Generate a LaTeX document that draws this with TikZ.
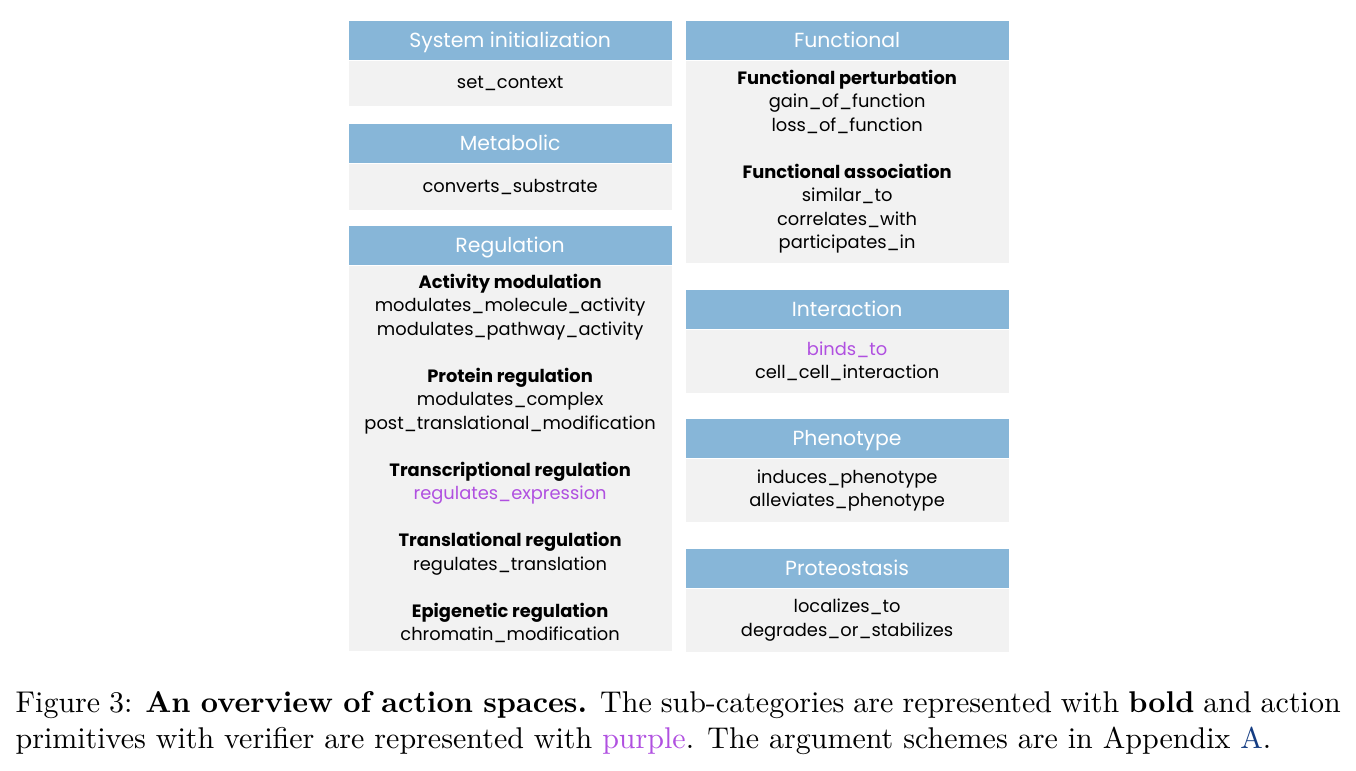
\documentclass[tikz,border=0pt]{standalone}
\usepackage{fontspec}
\usepackage{tikz}
\usetikzlibrary{positioning}
\newfontfamily\boxfont{Poppins}
\definecolor{headblue}{RGB}{135,182,216}
\definecolor{boxgray}{RGB}{242,242,242}
\definecolor{verpurple}{RGB}{176,80,224}
\definecolor{linkblue}{RGB}{20,60,130}

\tikzset{
  head/.style={fill=headblue, text=white, minimum width=107.67pt, minimum height=13pt,
    inner sep=0pt, text height=4.8pt, text depth=0pt, anchor=north west,
    font=\boxfont\fontsize{6.8}{8}\selectfont},
  body/.style={fill=boxgray, minimum width=107.67pt, inner sep=0pt, anchor=north,
    align=center, font=\boxfont\fontsize{5.95}{7.83}\selectfont}
}
\newcommand{\subcat}[1]{\textbf{#1}}
\newcommand{\verif}[1]{\textcolor{verpurple}{#1}}

\begin{document}
\begin{tikzpicture}[x=0.3333pt, y=-0.3333pt]
    \useasboundingbox (0,0) rectangle (1356,770);

    % left column
    \node[head] (syshead) at (348,20) {System initialization};
    \node[body, minimum height=15pt] (sysbody) at (syshead.south) {set\_context};

    \node[head] (methead) at (348,123) {Metabolic};
    \node[body, minimum height=15.33pt] (metbody) at (methead.south) {converts\_substrate};

    \node[head] (reghead) at (348,225) {Regulation};
    \node[body, minimum height=128.33pt] (regbody) at (reghead.south)
    {\subcat{Activity modulation}\\
     modulates\_molecule\_activity\\
     modulates\_pathway\_activity\\[7.83pt]
     \subcat{Protein regulation}\\
     modulates\_complex\\
     post\_translational\_modification\\[7.83pt]
     \subcat{Transcriptional regulation}\\
     \verif{regulates\_expression}\\[7.83pt]
     \subcat{Translational regulation}\\
     regulates\_translation\\[7.83pt]
     \subcat{Epigenetic regulation}\\
     chromatin\_modification};

    % right column
    \node[head] (funhead) at (685,20) {Functional};
    \node[body, minimum height=67.33pt] (funbody) at (funhead.south)
    {\subcat{Functional perturbation}\\
     gain\_of\_function\\
     loss\_of\_function\\[7.83pt]
     \subcat{Functional association}\\
     similar\_to\\
     correlates\_with\\
     participates\_in};

    \node[head] (inthead) at (685,289) {Interaction};
    \node[body, minimum height=21pt] (intbody) at (inthead.south)
    {\verif{binds\_to}\\ cell\_cell\_interaction};

    \node[head] (phehead) at (685,418) {Phenotype};
    \node[body, minimum height=21pt] (phebody) at (phehead.south)
    {induces\_phenotype\\ alleviates\_phenotype};

    \node[head] (prohead) at (685,548) {Proteostasis};
    \node[body, minimum height=21pt] (probody) at (prohead.south)
    {localizes\_to\\ degrades\_or\_stabilizes};

    % caption
    \node[anchor=north west, inner sep=0pt, text width=441.67pt, align=justify,
      font=\fontsize{10}{12}\selectfont] (caption) at (15,691)
    {Figure 3: \textbf{An overview of action spaces.} The sub-categories are represented
     with \textbf{bold} and action\linebreak primitives with verifier are represented with
     \textcolor{verpurple}{purple}. The argument schemes are in Appendix
     \textcolor{linkblue}{A}.};
\end{tikzpicture}
\end{document}
